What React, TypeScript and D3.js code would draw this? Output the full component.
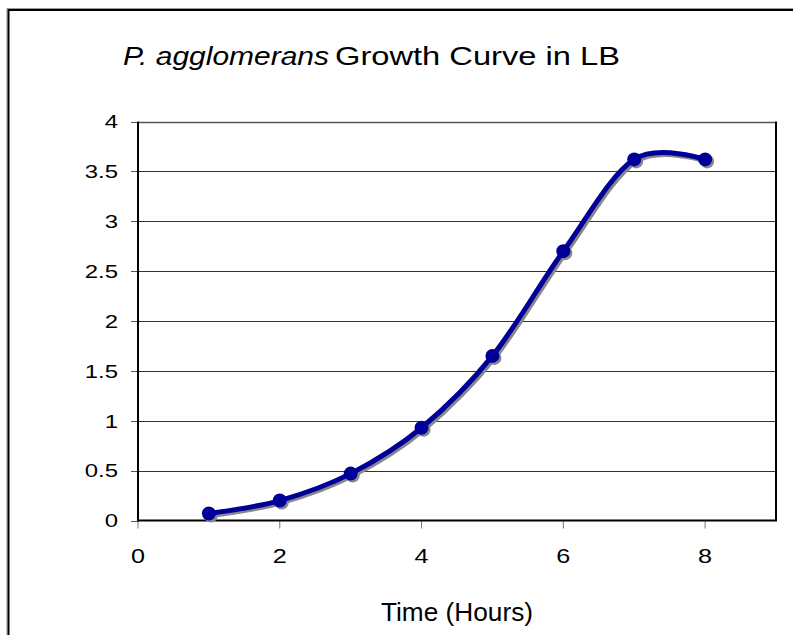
import React from "react";
import * as d3 from "d3";

const hours = [1, 2, 3, 4, 5, 6, 7, 8];
const od = [0.07, 0.2, 0.47, 0.93, 1.65, 2.7, 3.62, 3.62];
const xTicks = [0, 2, 4, 6, 8];
const yTicks = [0, 0.5, 1, 1.5, 2, 2.5, 3, 3.5, 4];
const titleItalic = "P. agglomerans";
const titleRest = "Growth Curve in LB";
const xTitle = "Time (Hours)";

const W = 793;
const H = 635;
const left = 138;
const right = 776;
const top = 121.5;
const bottom = 520.5;

export default function App() {
  const x = d3.scaleLinear().domain([0, 9]).range([left, right]);
  const y = d3.scaleLinear().domain([0, 4]).range([bottom, top]);
  const pts: [number, number][] = hours.map((h, i) => [h, od[i]]);
  const line = d3
    .line<[number, number]>()
    .x((d) => x(d[0]))
    .y((d) => y(d[1]))
    .curve(d3.curveCardinal.tension(0));
  const path = line(pts) || "";
  const font = "'Liberation Sans', Arial, sans-serif";
  return (
    <svg
      width={W}
      height={H}
      style={{ position: "absolute", left: 0, top: 0, background: "#fff" }}
    >
      <rect x={0} y={0} width={W} height={H} fill="#fff" />
      {/* outer chart border */}
      <rect x={7} y={8.5} width={W + 10} height={H + 10} fill="none" stroke="#999" strokeWidth={1} />
      <rect x={8.5} y={10} width={W + 10} height={H + 10} fill="none" stroke="#000" strokeWidth={2} />
      {/* title */}
      <text x={123} y={65} fontFamily={font} fontSize={25} fill="#000" fontStyle="italic" textLength={206} lengthAdjust="spacingAndGlyphs">
        {titleItalic}
      </text>
      <text x={335} y={65} fontFamily={font} fontSize={25} fill="#000" textLength={285} lengthAdjust="spacingAndGlyphs">
        {titleRest}
      </text>
      {/* gridlines */}
      {yTicks.filter((t) => t > 0).map((t) => (
        <line key={t} x1={left} x2={right} y1={Math.round(y(t)) + 0.5} y2={Math.round(y(t)) + 0.5} stroke="#333" strokeWidth={1} />
      ))}
      {/* plot border */}
      <line x1={left} x2={right} y1={Math.round(y(4)) + 0.5} y2={Math.round(y(4)) + 0.5} stroke="#555" strokeWidth={1.5} />
      <line x1={right} x2={right} y1={top} y2={bottom} stroke="#000" strokeWidth={2} />
      {/* y ticks and labels */}
      {yTicks.map((t) => (
        <g key={t}>
          <line x1={131} x2={left} y1={Math.round(y(t)) + 0.5} y2={Math.round(y(t)) + 0.5} stroke="#555" strokeWidth={1} />
          <text
            transform={`translate(118,${y(t)}) scale(1.26,1)`}
            dy="0.36em"
            textAnchor="end"
            fontFamily={font}
            fontSize={19}
            fill="#000"
          >
            {String(t)}
          </text>
        </g>
      ))}
      {/* x ticks and labels */}
      {xTicks.map((t) => (
        <g key={t}>
          <line x1={x(t)} x2={x(t)} y1={bottom} y2={bottom + 8} stroke="#777" strokeWidth={1} />
          <text
            transform={`translate(${x(t)},563) scale(1.2,1)`}
            textAnchor="middle"
            fontFamily={font}
            fontSize={21}
            fill="#000"
          >
            {String(t)}
          </text>
        </g>
      ))}
      {/* axes */}
      <line x1={left} x2={right + 1} y1={bottom} y2={bottom} stroke="#000" strokeWidth={2} />
      <line x1={left} x2={left} y1={top} y2={bottom + 1} stroke="#000" strokeWidth={2} />
      {/* x axis title */}
      <text x={(left + right) / 2 - 76} y={621} fontFamily={font} fontSize={25} fill="#000" textLength={152} lengthAdjust="spacingAndGlyphs">
        {xTitle}
      </text>
      {/* series shadow */}
      <g transform="translate(2,2)">
        <path d={path} fill="none" stroke="#888" strokeWidth={5} />
        {pts.map((d, i) => (
          <circle key={i} cx={x(d[0])} cy={y(d[1])} r={7} fill="#888" />
        ))}
      </g>
      {/* series */}
      <path d={path} fill="none" stroke="#000099" strokeWidth={5} />
      {pts.map((d, i) => (
        <circle key={i} cx={x(d[0])} cy={y(d[1])} r={7} fill="#000099" />
      ))}
    </svg>
  );
}
